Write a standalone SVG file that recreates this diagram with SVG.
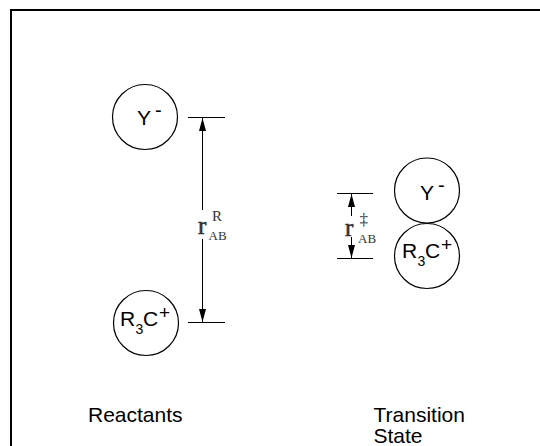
<svg xmlns="http://www.w3.org/2000/svg" width="540" height="446" viewBox="0 0 540 446">
<style>
.t{font-family:"Liberation Sans",Arial,sans-serif;fill:#000}
.s{font-family:"Liberation Serif","Times New Roman",serif;fill:#333}
.r{stroke:#333;stroke-width:0.6}
.c{fill:none;stroke:#000;stroke-width:1.2}
.l{stroke:#000;stroke-width:1;fill:none}
.a{stroke:#000;stroke-width:1;fill:none;marker-end:url(#ah)}
</style>
<defs>
<marker id="ah" viewBox="0 0 13 7" markerWidth="13" markerHeight="7" refX="13" refY="3.5" orient="auto" markerUnits="userSpaceOnUse">
<path d="M0,0 L13,3.5 L0,7 Z" fill="#000"/>
</marker>
</defs>
<rect width="540" height="446" fill="#fff"/>
<rect x="11" y="10" width="540" height="450" fill="none" stroke="#000" stroke-width="2"/>
<g id="reactant-Y">
<circle class="c" cx="145" cy="117" r="32.5"/>
<text class="t" font-size="21"><tspan x="137" y="125">Y</tspan><tspan x="155" y="117" font-size="20">-</tspan></text>
</g>
<g id="reactant-R3C">
<circle class="c" cx="146" cy="323" r="32.5"/>
<text class="t" font-size="21"><tspan x="120" y="326">R</tspan><tspan x="135.5" y="333.5" font-size="14">3</tspan><tspan x="143" y="326">C</tspan><tspan x="159" y="319" font-size="19">+</tspan></text>
</g>
<g id="ts-Y">
<circle class="c" cx="427" cy="190.5" r="32.5"/>
<text class="t" font-size="21"><tspan x="420" y="200">Y</tspan><tspan x="438" y="192" font-size="20">-</tspan></text>
</g>
<g id="ts-R3C">
<circle class="c" cx="427" cy="256" r="32.5"/>
<text class="t" font-size="21"><tspan x="402" y="258">R</tspan><tspan x="417.5" y="265.5" font-size="14">3</tspan><tspan x="425" y="258">C</tspan><tspan x="441" y="251" font-size="19">+</tspan></text>
</g>
<g id="connectors">
<line class="l" x1="188" y1="117.5" x2="225" y2="117.5"/>
<line class="l" x1="188" y1="322.5" x2="225" y2="322.5"/>
<line class="a" x1="202.5" y1="210" x2="202.5" y2="118"/>
<line class="a" x1="202.5" y1="239" x2="202.5" y2="322"/>
<line class="l" x1="337" y1="193.5" x2="373" y2="193.5"/>
<line class="l" x1="337" y1="258.5" x2="373" y2="258.5"/>
<line class="a" x1="351.5" y1="216" x2="351.5" y2="194"/>
<line class="a" x1="351.5" y1="237" x2="351.5" y2="258"/>
</g>
<g id="label-rR">
<text class="s"><tspan x="212" y="221" font-size="15">R</tspan><tspan class="r" x="198" y="234" font-size="25">r</tspan><tspan x="208.5" y="239.5" font-size="13">AB</tspan></text>
</g>
<g id="label-rts">
<text class="s"><tspan x="359.5" y="225" font-size="17">‡</tspan><tspan class="r" x="345" y="236" font-size="25">r</tspan><tspan x="358" y="242.5" font-size="13">AB</tspan></text>
</g>
<g id="captions">
<text class="t" font-size="21" x="88" y="422">Reactants</text>
<text class="t" font-size="21"><tspan x="373.5" y="422">Transition</tspan><tspan x="373.5" y="443">State</tspan></text>
</g>
</svg>
